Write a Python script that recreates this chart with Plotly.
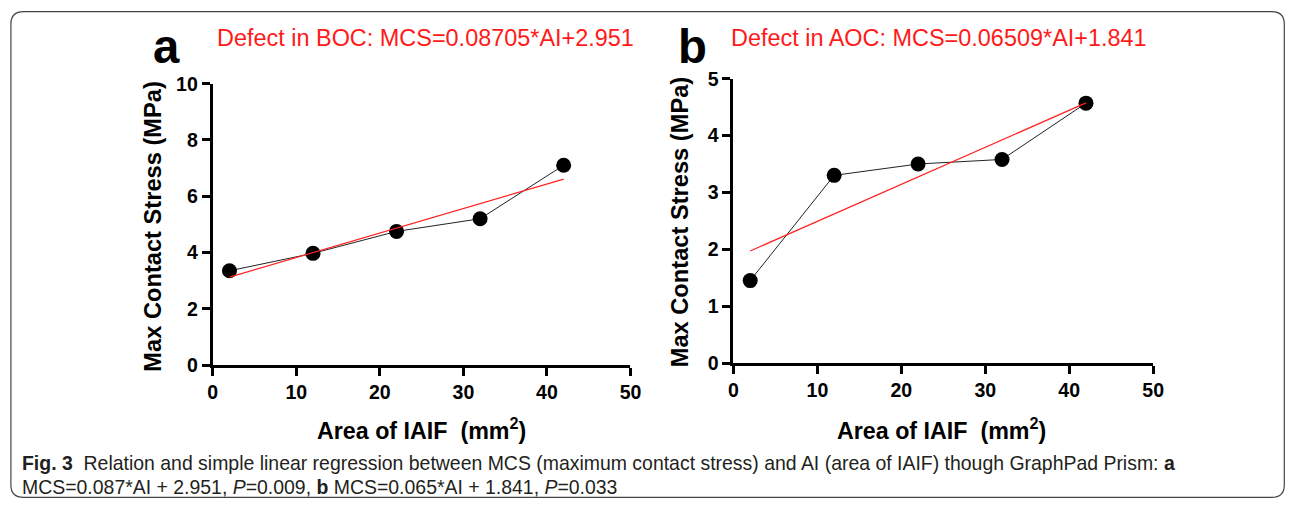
import plotly.graph_objects as go

# Data
area = [2, 12, 22, 32, 42]
mcs_boc = [3.35, 3.97, 4.75, 5.2, 7.1]
mcs_aoc = [1.45, 3.3, 3.5, 3.58, 4.57]
fit_x = [2, 42]
fit_boc = [3.125, 6.607]
fit_aoc = [1.971, 4.575]
x_ticks = [0, 10, 20, 30, 40, 50]
y_ticks_a = [0, 2, 4, 6, 8, 10]
y_ticks_b = [0, 1, 2, 3, 4, 5]

W, H = 1296, 509
# observed capture mapping compensation (screen = O + S * page)
OX, SX, OY, SY = 4.1, 0.9883, 10.4, 0.9556
def clamp(v, lo, hi): return max(lo, min(hi, v))
def px(x): return clamp((x - OX) / SX, 0.7, W - 0.7) / W
def py(y): return 1 - clamp((y - OY) / SY, 0.7, H - 0.7) / H
FS = 1.0 / 0.972  # font compensation

fig = go.Figure()
for xa, ya, ys, fs in [("x", "y", mcs_boc, fit_boc), ("x2", "y2", mcs_aoc, fit_aoc)]:
    fig.add_trace(go.Scatter(x=area, y=ys, mode="lines+markers", xaxis=xa, yaxis=ya,
                             line=dict(color="#222", width=1),
                             marker=dict(color="black", size=15), showlegend=False, cliponaxis=False))
    fig.add_trace(go.Scatter(x=fit_x, y=fs, mode="lines", xaxis=xa, yaxis=ya,
                             line=dict(color="#ff2020", width=1.2), showlegend=False, cliponaxis=False))

axfont = dict(family="Liberation Sans, Arial", size=19 * FS, color="black", weight="bold")
common = dict(showline=True, linecolor="black", linewidth=3, ticks="outside", ticklen=8,
              tickwidth=3, tickcolor="black", showgrid=False, zeroline=False, tickfont=axfont)

fig.update_layout(
    autosize=True, margin=dict(l=0, r=0, t=0, b=0),
    paper_bgcolor="white", plot_bgcolor="white",
    xaxis=dict(domain=[px(212), px(630)], range=[0, 50], tickvals=x_ticks, anchor="y", **common),
    yaxis=dict(domain=[py(364), py(83)], range=[0, 10], tickvals=y_ticks_a, anchor="x", **common),
    xaxis2=dict(domain=[px(733), px(1153)], range=[0, 50], tickvals=x_ticks, anchor="y2", **common),
    yaxis2=dict(domain=[py(362), py(78)], range=[0, 5], tickvals=y_ticks_b, anchor="x2", **common),
)

xtfont = dict(family="Liberation Sans, Arial", size=22.6 * FS, color="black", weight="bold")
ytfont = dict(family="Liberation Sans, Arial", size=23 * FS, color="black", weight="bold")
ann = []
for cx, cy, ycx, ycy in [(421, 428, 152, 225), (941, 428, 679, 221)]:
    ann.append(dict(x=px(cx), y=py(cy), xref="paper", yref="paper", showarrow=False,
                    text="Area of IAIF  (mm<sup>2</sup>)", font=xtfont, xanchor="center", yanchor="middle"))
    ann.append(dict(x=px(ycx), y=py(ycy), xref="paper", yref="paper", showarrow=False, textangle=-90,
                    text="Max Contact Stress (MPa)", font=ytfont, xanchor="center", yanchor="middle"))
red = dict(family="Liberation Sans, Arial", size=22.8 * FS, color="#ff1a1a")
ann.append(dict(x=px(425), y=py(37), xref="paper", yref="paper", showarrow=False,
                text="Defect in BOC: MCS=0.08705*AI+2.951", font=red, xanchor="center", yanchor="middle"))
ann.append(dict(x=px(939), y=py(37), xref="paper", yref="paper", showarrow=False,
                text="Defect in AOC: MCS=0.06509*AI+1.841", font=red, xanchor="center", yanchor="middle"))
letter = dict(family="Liberation Sans, Arial", size=46 * FS, color="black", weight="bold")
ann.append(dict(x=px(166), y=py(46), xref="paper", yref="paper", showarrow=False, text="a",
                font=letter, xanchor="center", yanchor="middle"))
ann.append(dict(x=px(692), y=py(46), xref="paper", yref="paper", showarrow=False, text="b",
                font=letter, xanchor="center", yanchor="middle"))
cap = dict(family="Liberation Sans Narrow, Arial Narrow, Liberation Sans", size=18.9 * FS, color="#231f20")
ann.append(dict(x=px(19), y=py(462), xref="paper", yref="paper", showarrow=False, xanchor="left", yanchor="middle",
                text="<b>Fig. 3</b>  Relation and simple linear regression between MCS (maximum contact stress) and AI (area of IAIF) though GraphPad Prism: <b>a</b>",
                font=cap))
ann.append(dict(x=px(19), y=py(486), xref="paper", yref="paper", showarrow=False, xanchor="left", yanchor="middle",
                text="MCS=0.087*AI + 2.951, <i>P</i>=0.009, <b>b</b> MCS=0.065*AI + 1.841, <i>P</i>=0.033",
                font=cap))
fig.update_layout(annotations=ann)

# rounded frame
x0, y0, x1, y1 = px(10), py(10), px(1295), py(507)
rx, ry = 13 / W, 13 / H
path = (f"M {x0+rx} {y0} L {x1-rx} {y0} Q {x1} {y0} {x1} {y0-ry} L {x1} {y1+ry} Q {x1} {y1} {x1-rx} {y1} "
        f"L {x0+rx} {y1} Q {x0} {y1} {x0} {y1+ry} L {x0} {y0-ry} Q {x0} {y0} {x0+rx} {y0} Z")
fig.add_shape(type="path", path=path, xref="paper", yref="paper", line=dict(color="#444", width=1.2))

fig.write_html("out.html", default_width="100vw", default_height="100vh",
               config={"displayModeBar": False, "responsive": True},
               post_script="document.documentElement.style.margin='0';document.body.style.margin='0';"
                           "document.body.style.overflow='hidden';"
                           "Plotly.Plots.resize(document.getElementById('{plot_id}'));")
